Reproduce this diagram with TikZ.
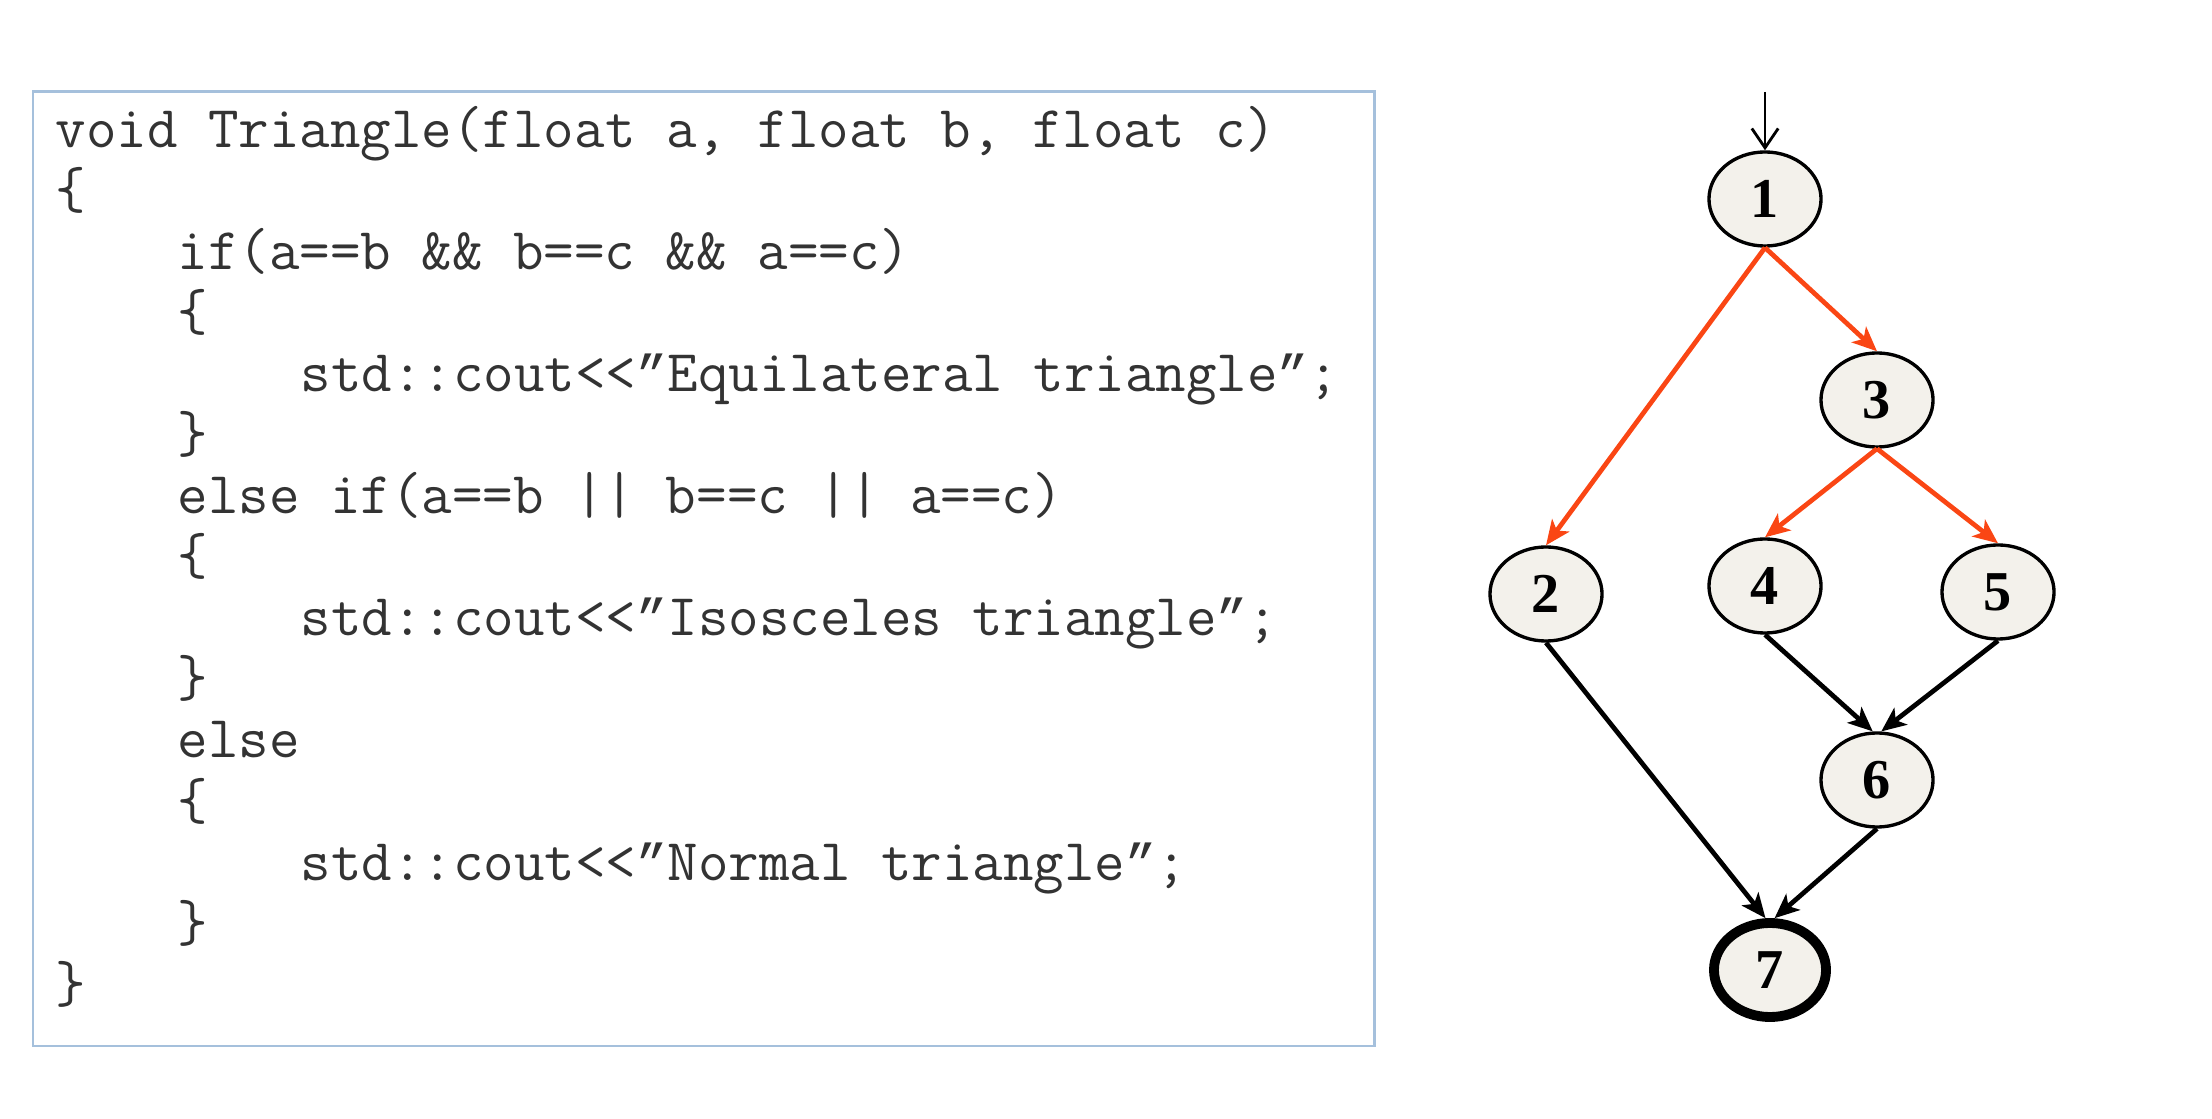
\documentclass[tikz,border=0pt]{standalone}
\usepackage{fontspec}
\setmainfont{Liberation Serif}
\newfontfamily\quotefont{Liberation Mono}
\usetikzlibrary{shapes.geometric,arrows.meta}
\definecolor{pathred}{RGB}{250,70,20}
\definecolor{boxblue}{RGB}{165,192,220}
\definecolor{nodefill}{RGB}{243,241,235}
% slanted closing quote as in the listing, same advance as one code character
\newcommand{\codequote}{{\quotefont\fontsize{14.75}{19}\selectfont ”}}
\tikzset{
  cfgnode/.style={draw, ellipse, fill=nodefill, line width=0.95pt,
    minimum width=1.12cm, minimum height=0.94cm, inner sep=0pt,
    font=\fontsize{16}{19}\selectfont\bfseries},
  codeline/.style={anchor=base west, inner sep=0pt,
    font=\fontsize{16.85}{19}\selectfont\ttfamily, text=black!80},
  flow/.style={line width=1.35pt, -{Stealth[length=7pt,width=6pt,inset=1.8pt]}},
  taken/.style={flow, color=pathred},
  entry/.style={line width=0.8pt, -{Straight Barb[length=5.5pt,width=7.5pt]}}
}
\begin{document}
\begin{tikzpicture}[x=0.01cm, y=-0.01cm]
                \useasboundingbox (0,0) rectangle (2212,1119);
                % code listing
                \draw[boxblue, line width=0.85pt] (33,92) rectangle (1374,1046);
                \node[codeline] (l1) at (55,148) {void Triangle(float a, float b, float c)};
                \node[codeline] (l2) at (55,209) {\{};
                \node[codeline] (l3) at (177,270) {if(a==b \&\& b==c \&\& a==c)};
                \node[codeline] (l4) at (177,331) {\{};
                \node[codeline] (l5) at (300,392) {std::cout<<\codequote Equilateral triangle\codequote;};
                \node[codeline] (l6) at (177,453) {\}};
                \node[codeline] (l7) at (177,514) {else if(a==b || b==c || a==c)};
                \node[codeline] (l8) at (177,575) {\{};
                \node[codeline] (l9) at (300,636) {std::cout<<\codequote Isosceles triangle\codequote;};
                \node[codeline] (l10) at (177,697) {\}};
                \node[codeline] (l11) at (177,758) {else};
                \node[codeline] (l12) at (177,819) {\{};
                \node[codeline] (l13) at (300,880) {std::cout<<\codequote Normal triangle\codequote;};
                \node[codeline] (l14) at (177,941) {\}};
                \node[codeline] (l15) at (55,1002) {\}};

                % control flow graph
                \node[cfgnode] (n1) at (1765,199) {1};
                \node[cfgnode] (n2) at (1546,594) {2};
                \node[cfgnode] (n3) at (1877,400) {3};
                \node[cfgnode] (n4) at (1765,586) {4};
                \node[cfgnode] (n5) at (1998,592) {5};
                \node[cfgnode] (n6) at (1877,780) {6};
                \node[cfgnode, line width=2.8pt] (n7) at (1770,970) {7};
                \coordinate (start) at (1765,92);

                \draw [entry] (start) -- (n1.north);
                \draw [taken] (n1.south) -- (n2.north);
                \draw [taken] (n1.south) -- (n3.north);
                \draw [taken] (n3.south) -- (n4.north);
                \draw [taken] (n3.south) -- (n5.north);
                \draw [flow] (n2.south) -- (n7.95);
                \draw [flow] (n4.south) -- (n6.95);
                \draw [flow] (n5.south) -- (n6.85);
                \draw [flow] (n6.south) -- (n7.85);
            \end{tikzpicture}
\end{document}
